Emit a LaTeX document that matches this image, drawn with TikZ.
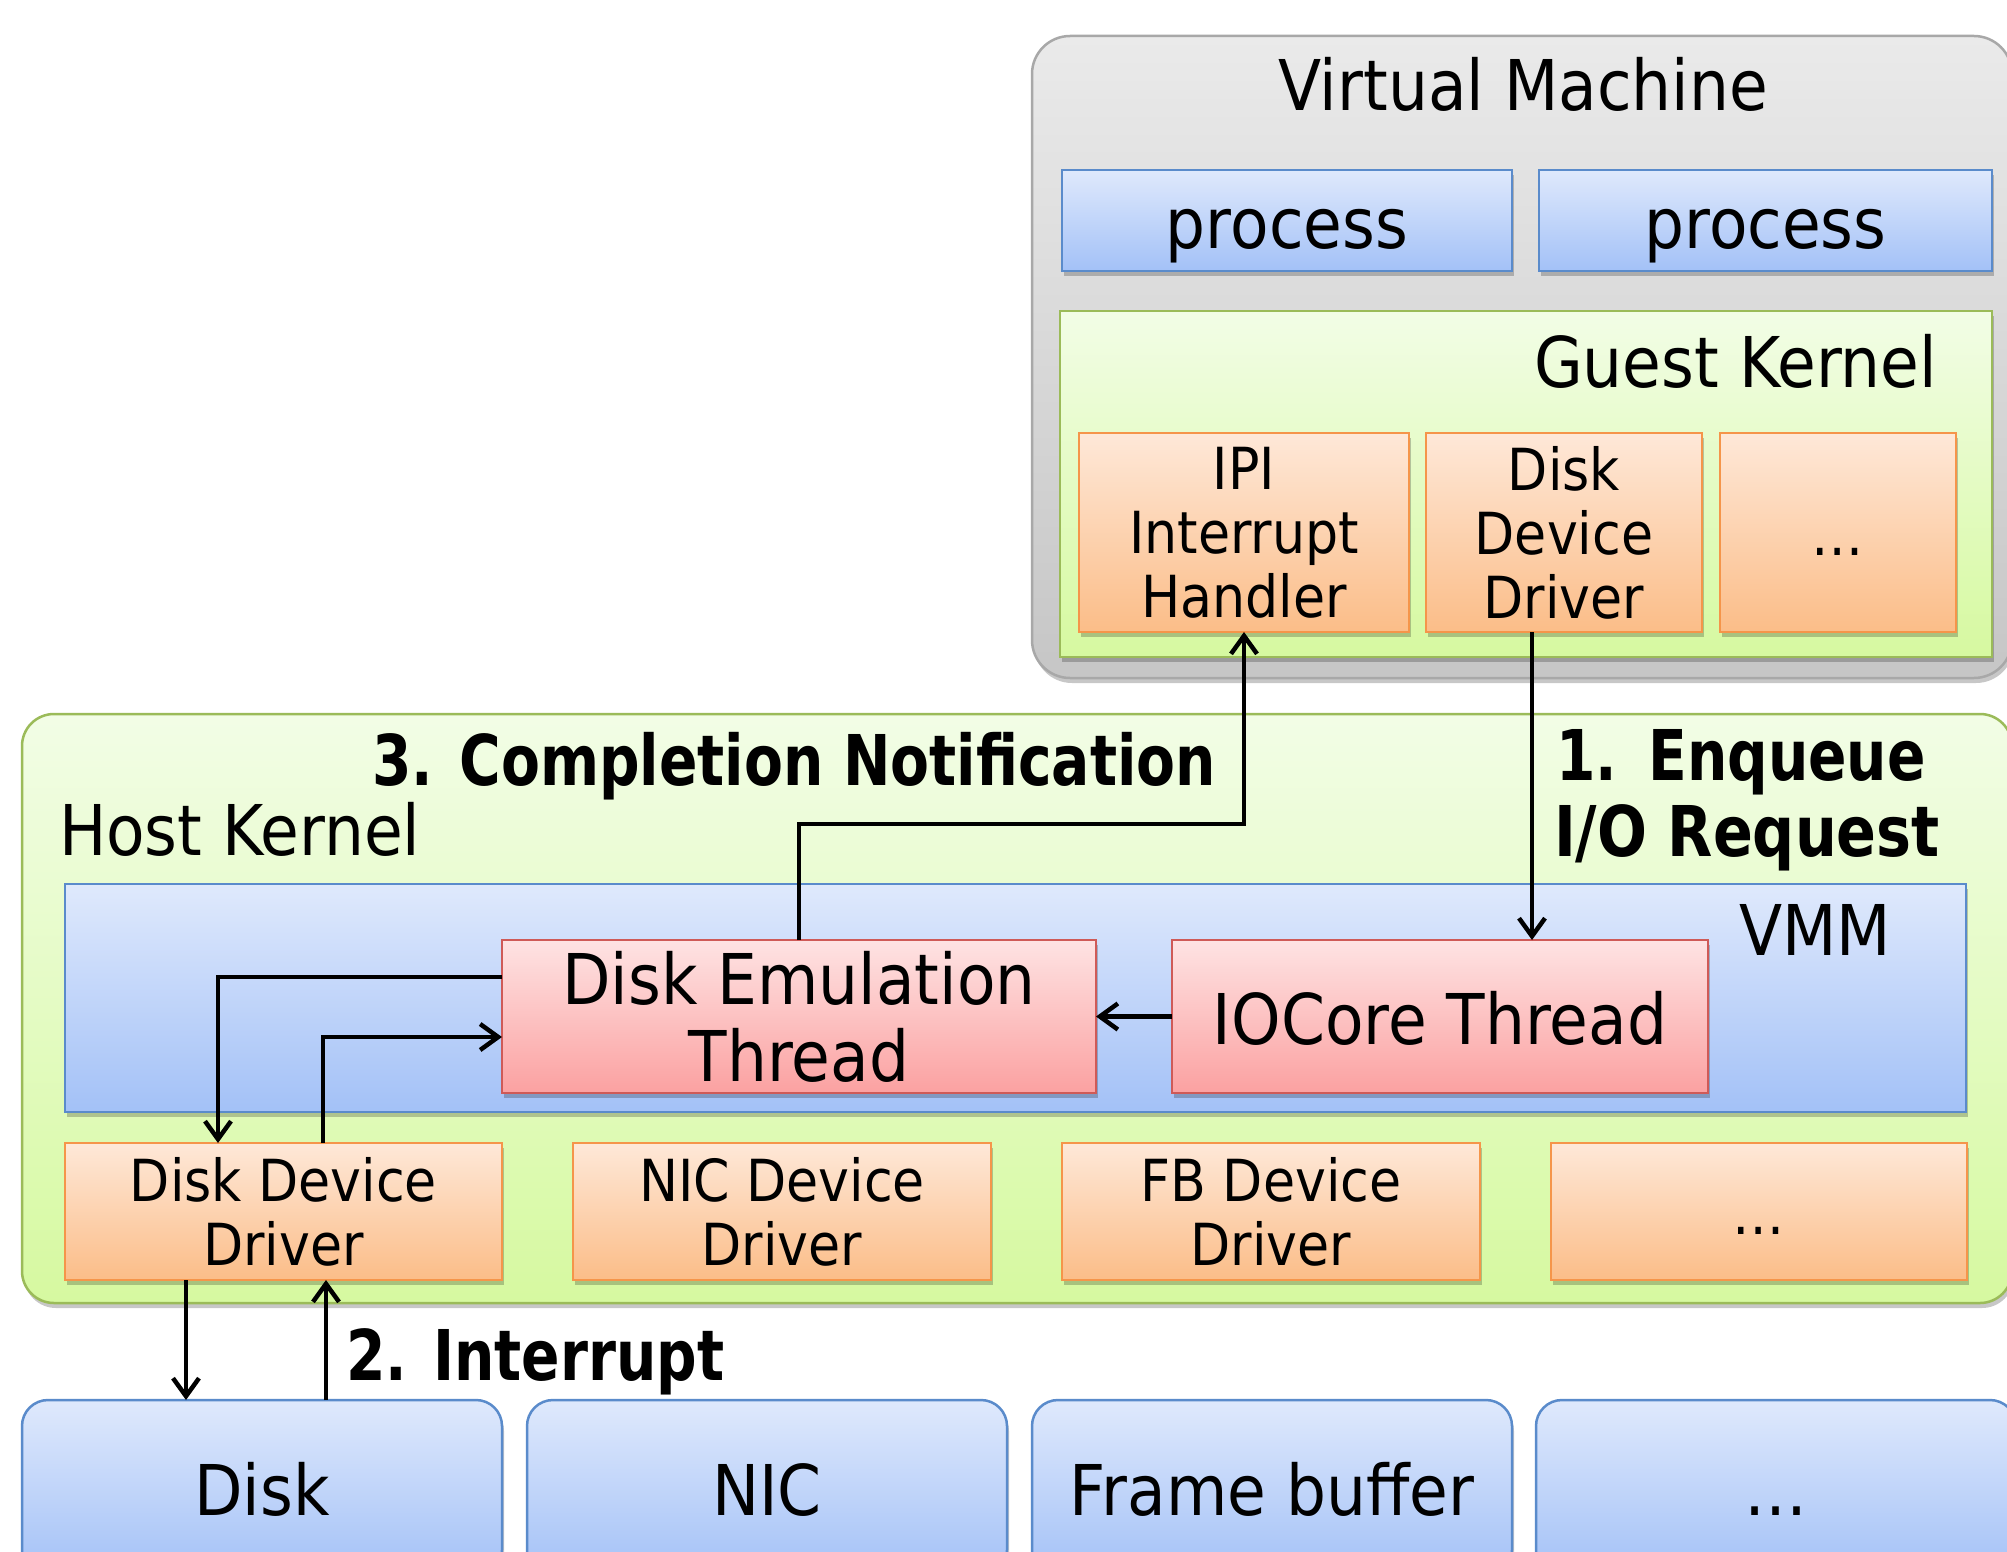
\documentclass[tikz,border=0pt]{standalone}
\usepackage{fontspec}
\setmainfont{DejaVu Sans}[FakeStretch=0.9]
\newfontfamily\steplabelfont{DejaVu Sans}[FakeStretch=0.81]
\usetikzlibrary{arrows.meta,shadows,calc}

\definecolor{vmtop}{HTML}{EAEAEA}
\definecolor{vmbot}{HTML}{C6C6C6}
\definecolor{vmline}{HTML}{A8A8A8}
\definecolor{grtop}{HTML}{F2FDE6}
\definecolor{grbot}{HTML}{D6F9A0}
\definecolor{grline}{HTML}{9BBB59}
\definecolor{bltop}{HTML}{DFE9FC}
\definecolor{blbot}{HTML}{A3C1F7}
\definecolor{blline}{HTML}{5A8BCB}
\definecolor{ortop}{HTML}{FEE8D8}
\definecolor{orbot}{HTML}{FBBD88}
\definecolor{orline}{HTML}{F5954A}
\definecolor{rdtop}{HTML}{FEE3E3}
\definecolor{rdbot}{HTML}{FBA1A1}
\definecolor{rdline}{HTML}{CF5A57}

\tikzset{
  base/.style={inner sep=0pt, outer sep=0pt, line width=2.5pt, align=center},
  softshadow/.style={drop shadow={shadow xshift=2pt, shadow yshift=-5pt, opacity=0.22, fill=black}},
  onebig/.style={text height=70pt, text depth=15pt},
  onesmall/.style={text height=58pt, text depth=12pt},
  big/.style={font=\fontsize{70}{77}\selectfont},
  small/.style={font=\fontsize{58}{64}\selectfont},
  vmpanel/.style={base, softshadow, rounded corners=38pt, draw=vmline, top color=vmtop, bottom color=vmbot},
  hostpanel/.style={base, softshadow, rounded corners=32pt, draw=grline, top color=grtop, bottom color=grbot},
  greenbox/.style={base, softshadow, draw=grline, top color=grtop, bottom color=grbot},
  bluebox/.style={base, softshadow, draw=blline, top color=bltop, bottom color=blbot},
  devbox/.style={base, softshadow, rounded corners=26pt, draw=blline, top color=bltop, bottom color=blbot, big, onebig},
  drvbox/.style={base, softshadow, draw=orline, top color=ortop, bottom color=orbot, small},
  threadbox/.style={base, softshadow, draw=rdline, top color=rdtop, bottom color=rdbot, big},
  lbl/.style={inner sep=0pt, outer sep=0pt, big},
  steplbl/.style={inner sep=0pt, outer sep=0pt, font=\steplabelfont\bfseries\fontsize{70}{77}\selectfont, align=left},
  arr/.style={line width=4.5pt, -{Straight Barb[length=18pt,width=26pt]}},
}

\begin{document}
\begin{tikzpicture}[x=1pt,y=-1pt]
\useasboundingbox (0,0) rectangle (2007,1552);
\clip (0,0) rectangle (2007,1552);

% ---------- virtual machine ----------
\node[vmpanel, minimum width=980pt, minimum height=642pt] (vm) at (1522,357) {};
\node[lbl, anchor=base] (vmtitle) at (1523,111) {Virtual Machine};
\node[bluebox, big, onebig, minimum width=450pt, minimum height=101pt] (p1) at (1287,220.5) {process};
\node[bluebox, big, onebig, minimum width=453pt, minimum height=101pt] (p2) at (1765.5,220.5) {process};

\node[greenbox, minimum width=932pt, minimum height=346pt] (guest) at (1526,484) {};
\node[lbl, anchor=base east] (guesttitle) at (1937,387) {Guest Kernel};
\node[drvbox, minimum width=330pt, minimum height=199pt] (ipi) at (1244,532.5) {IPI\\Interrupt\\Handler};
\node[drvbox, minimum width=276pt, minimum height=199pt] (gdd) at (1564,532.5) {Disk\\Device\\Driver};
\node[drvbox, onesmall, minimum width=236pt, minimum height=199pt] (gmore) at (1838,532.5) {…};

% ---------- host kernel ----------
\node[hostpanel, minimum width=1990pt, minimum height=589pt] (host) at (1017,1008.5) {};
\node[lbl, anchor=base west] (hosttitle) at (59,855) {Host Kernel};

\node[bluebox, minimum width=1901pt, minimum height=228pt] (vmm) at (1015.5,998) {};
\node[lbl, anchor=base] (vmmtitle) at (1815,955) {VMM};
\node[threadbox, minimum width=594pt, minimum height=153pt] (det) at (799,1016.5) {Disk Emulation\\Thread};
\node[threadbox, onebig, minimum width=536pt, minimum height=153pt] (ioc) at (1440,1016.5) {IOCore Thread};

\node[drvbox, minimum width=437pt, minimum height=137pt] (hdd) at (283.5,1211.5) {Disk Device\\Driver};
\node[drvbox, minimum width=418pt, minimum height=137pt] (hnic) at (782,1211.5) {NIC Device\\Driver};
\node[drvbox, minimum width=418pt, minimum height=137pt] (hfb) at (1271,1211.5) {FB Device\\Driver};
\node[drvbox, onesmall, minimum width=416pt, minimum height=137pt] (hmore) at (1759,1211.5) {…};

% ---------- hardware ----------
\node[devbox, minimum width=480pt, minimum height=176pt] (disk) at (262,1488) {Disk};
\node[devbox, minimum width=480pt, minimum height=176pt] (nic) at (767,1488) {NIC};
\node[devbox, minimum width=480pt, minimum height=176pt] (fb) at (1272,1488) {Frame buffer};
\node[devbox, minimum width=480pt, minimum height=176pt] (dmore) at (1776,1488) {…};

% ---------- request path ----------
\draw[arr] ([xshift=-32pt]gdd.south) -- ([xshift=-32pt]gdd.south |- ioc.north);
\draw[arr] (ioc.west) -- (det.east);
\draw[arr] ([yshift=39.5pt]det.west) -| ([xshift=-65.5pt]hdd.north);
\draw[arr] ([xshift=39.5pt]hdd.north) |- ([yshift=-20.5pt]det.west);
\draw[arr] ([xshift=-97.5pt]hdd.south) -- ([xshift=-97.5pt]hdd.south |- disk.north);
\draw[arr] ([xshift=64pt]disk.north) -- ([xshift=64pt]disk.north |- hdd.south);
\draw[arr] (det.north) -- (det.north |- 0,824) -| (ipi.south);

% ---------- step labels ----------
\node[steplbl, anchor=base] (s3) at (794,785) {3. Completion Notification};
\node[steplbl, anchor=base west] (s1a) at (1556,780) {1.\ \,Enqueue};
\node[steplbl, anchor=base west] (s1b) at (1554,856) {\addfontfeature{FakeStretch=0.84}I/O Request};
\node[steplbl, anchor=base west] (s2) at (346,1380) {2. Interrupt};
\end{tikzpicture}
\end{document}
